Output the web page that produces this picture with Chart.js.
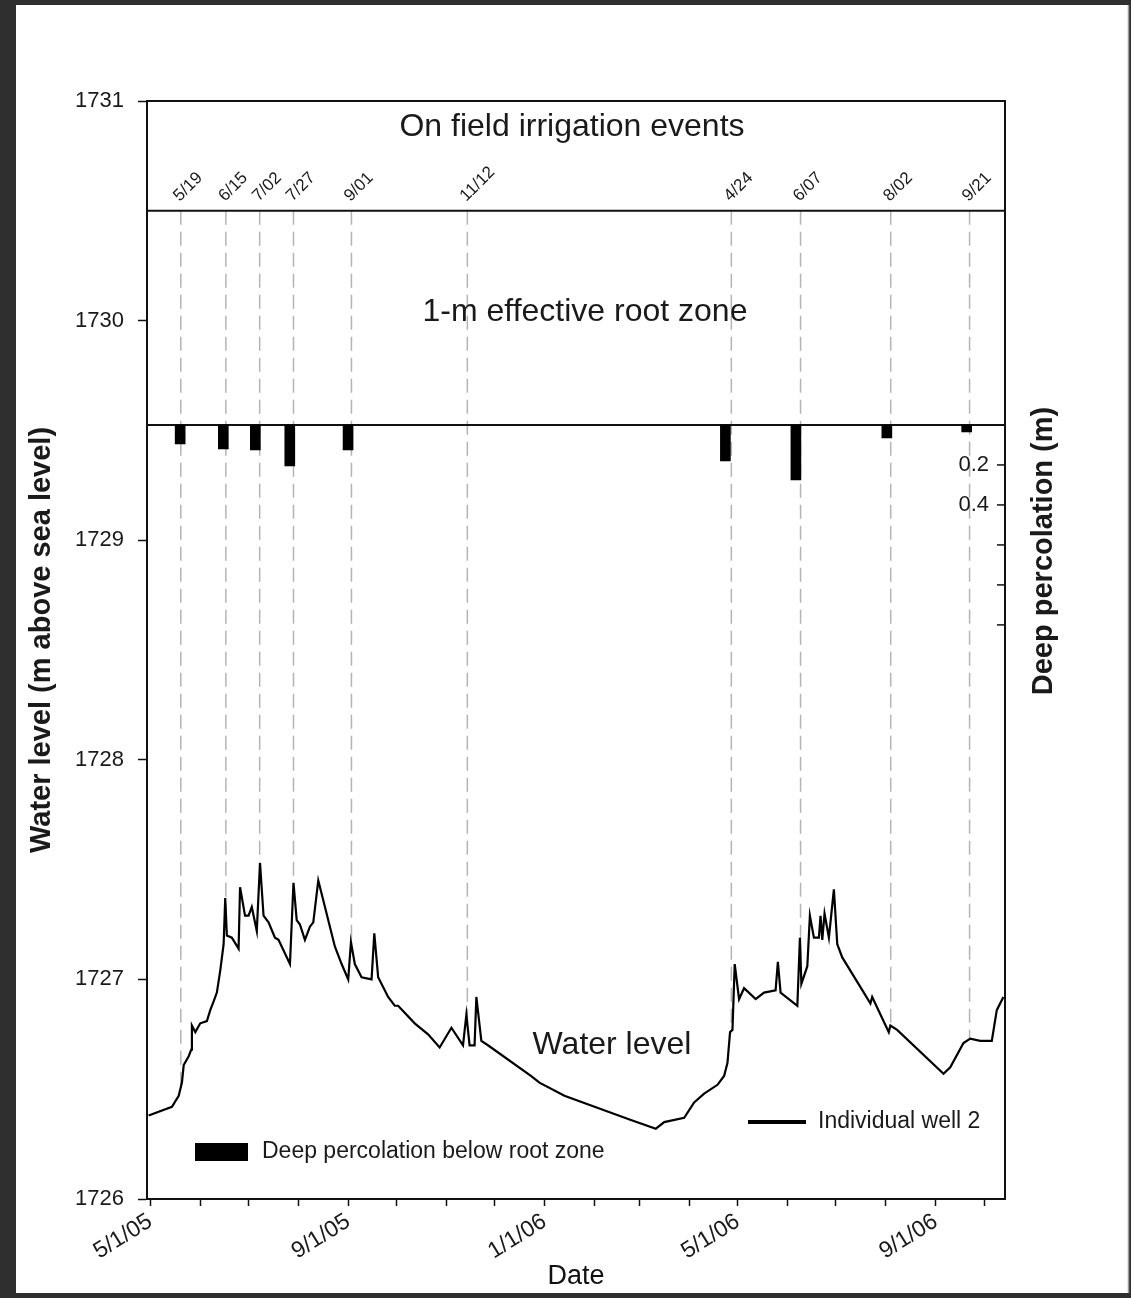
<!DOCTYPE html>
<html><head><meta charset="utf-8">
<script src="https://cdn.jsdelivr.net/npm/chart.js@4.4.1/dist/chart.umd.min.js"></script>
<style>
html,body{margin:0;padding:0;background:#2e2e2e;overflow:hidden;}
#c{position:absolute;left:0;top:0;}
</style></head><body>
<canvas id="c" width="1131" height="1298"></canvas>
<script>
// ---- data (days counted from 5/1/05) ----
const waterDays = [-1,13.5,17.7,19.7,20.8,23.9,25.5,25.9,28.0,31.1,35.2,37.3,39.4,41.4,43.5,45.6,46.6,47.6,50.7,54.9,55.8,58.9,61.1,63.1,66.2,68.2,70.4,73.5,77.5,79.7,86.8,89.0,91.0,93.0,96.1,99.2,101.3,104.4,107.5,114.7,118.9,123.0,124.7,127.1,131.3,137.5,139.2,141.6,147.8,151.9,154.0,164.3,172.6,179.8,187.1,194.3,196.4,198.4,201.5,202.6,205.7,209.8,236.7,241.8,257.3,298.6,314.1,319.3,331.7,337.9,344.1,352.4,356.5,358.6,360.2,361.7,363.1,365.8,368.9,376.1,381.3,388.5,389.9,391.6,402.0,403.6,404.5,408.2,409.8,412.3,415.4,416.4,417.5,418.9,421.6,424.7,426.8,429.9,443.3,447.4,448.5,458.8,459.8,464.0,492.8,497.0,505.2,509.4,515.6,522.8,525.9,530.0];
const waterLevels = [1726.38,1726.42,1726.47,1726.53,1726.61,1726.65,1726.68,1726.79,1726.76,1726.80,1726.81,1726.86,1726.90,1726.94,1727.04,1727.16,1727.37,1727.20,1727.19,1727.14,1727.42,1727.29,1727.29,1727.33,1727.22,1727.53,1727.29,1727.26,1727.19,1727.18,1727.07,1727.44,1727.27,1727.25,1727.18,1727.24,1727.26,1727.45,1727.36,1727.15,1727.07,1727.00,1727.17,1727.07,1727.01,1727.00,1727.21,1727.01,1726.92,1726.88,1726.88,1726.80,1726.75,1726.69,1726.78,1726.70,1726.84,1726.70,1726.70,1726.92,1726.72,1726.70,1726.56,1726.53,1726.47,1726.36,1726.32,1726.35,1726.37,1726.44,1726.48,1726.52,1726.56,1726.62,1726.76,1726.77,1727.07,1726.91,1726.96,1726.91,1726.94,1726.95,1727.08,1726.94,1726.88,1727.19,1726.98,1727.06,1727.29,1727.19,1727.19,1727.29,1727.18,1727.30,1727.19,1727.41,1727.16,1727.10,1726.94,1726.89,1726.92,1726.76,1726.79,1726.77,1726.57,1726.60,1726.71,1726.73,1726.72,1726.72,1726.86,1726.92];
const eventLabels = ['5/19','6/15','7/02','7/27','9/01','11/12','4/24','6/07','8/02','9/21'];
const eventDays = [19,47,68,89,125,197,361,404,460,509];
const percDays = [18.6,45.4,65.3,86.7,122.9,357.3,401.1,457.6,507.2];
const percDepths = [0.095,0.12,0.125,0.205,0.125,0.18,0.275,0.065,0.035];
const monthTickDays = [0,31,61,92,123,153,184,214,245,276,304,335,365,396,426,457,488,518];
const monthTickLabels = ['5/1/05','','','','9/1/05','','','','1/1/06','','','','5/1/06','','','','9/1/06',''];
const levelTicks = [1726,1727,1728,1729,1730,1731];
const percTickValues = [0.2,0.4,0.6,0.8,1.0];
const percTickLabels = ['0.2','0.4','','',''];
const rootZoneTop = 1730.5;

const FONT = '"Liberation Sans", Arial, Helvetica, sans-serif';

function levelAt(d){
  for(let i=1;i<waterDays.length;i++){
    if(waterDays[i]>=d){
      const t=(d-waterDays[i-1])/(waterDays[i]-waterDays[i-1]);
      return waterLevels[i-1]+t*(waterLevels[i]-waterLevels[i-1]);
    }
  }
  return waterLevels[waterLevels.length-1];
}

const framePlugin = {
  id:'frame',
  beforeDraw(chart){
    const c=chart.ctx;
    c.save();
    c.fillStyle='#2f2f2f'; c.fillRect(0,0,chart.width,chart.height);
    c.fillStyle='#ffffff'; c.fillRect(16,5,1112,1288);
    c.strokeStyle='#9a9a9a'; c.lineWidth=1.5;
    c.beginPath(); c.moveTo(1128.5,5); c.lineTo(1128.5,1293); c.stroke();
    c.restore();
  }
};

const overlayPlugin = {
  id:'overlay',
  beforeDatasetsDraw(chart){
    const c=chart.ctx, a=chart.chartArea, x=chart.scales.x, y=chart.scales.y, y2=chart.scales.y2;
    c.save();
    c.strokeStyle='#b4b4b4'; c.lineWidth=1.5; c.setLineDash([14,7]);
    const yTop=y.getPixelForValue(rootZoneTop);
    eventDays.forEach(d=>{
      const px=x.getPixelForValue(d);
      const py=y.getPixelForValue(levelAt(d));
      c.beginPath(); c.moveTo(px,yTop); c.lineTo(px,py); c.stroke();
    });
    c.setLineDash([]);
    c.strokeStyle='#111'; c.lineWidth=2;
    c.beginPath(); c.moveTo(a.left,yTop); c.lineTo(a.right,yTop); c.stroke();
    const y0=y2.getPixelForValue(0);
    c.beginPath(); c.moveTo(a.left,y0); c.lineTo(a.right,y0); c.stroke();
    c.beginPath(); c.moveTo(a.left,a.top); c.lineTo(a.right,a.top); c.lineTo(a.right,a.bottom); c.stroke();
    c.restore();
  },
  afterDatasetsDraw(chart){
    const c=chart.ctx, a=chart.chartArea, x=chart.scales.x, y2=chart.scales.y2;
    c.save();
    c.fillStyle='#1a1a1a';
    c.font='17px '+FONT; c.textAlign='left'; c.textBaseline='alphabetic';
    eventDays.forEach((d,i)=>{
      const px=x.getPixelForValue(d);
      c.save(); c.translate(px-1,202); c.rotate(-Math.PI/4); c.fillText(eventLabels[i],0,0); c.restore();
    });
    c.font='32px '+FONT; c.textAlign='center'; c.textBaseline='middle';
    c.fillText('On field irrigation events',572,127);
    c.fillText('1-m effective root zone',585,312);
    c.fillText('Water level',612,1045);
    c.strokeStyle='#111'; c.lineWidth=1.5;
    c.font='22px '+FONT; c.textAlign='right'; c.textBaseline='middle';
    percTickValues.forEach((v,i)=>{
      const py=y2.getPixelForValue(v);
      c.beginPath(); c.moveTo(a.right-8,py); c.lineTo(a.right,py); c.stroke();
      if(percTickLabels[i]) c.fillText(percTickLabels[i],a.right-16,py);
    });
    const ds=chart.data.datasets;
    c.fillStyle='#000'; c.fillRect(195,1143,53,18);
    c.strokeStyle='#000'; c.lineWidth=4;
    c.beginPath(); c.moveTo(748,1122); c.lineTo(806,1122); c.stroke();
    c.fillStyle='#1a1a1a'; c.font='23px '+FONT; c.textAlign='left'; c.textBaseline='middle';
    c.fillText(ds[0].label,262,1152);
    c.fillText(ds[1].label,818,1122);
    c.font='bold 29px '+FONT; c.textAlign='center'; c.textBaseline='middle';
    c.save(); c.translate(42,640); c.rotate(-Math.PI/2); c.fillText('Water level (m above sea level)',0,0); c.restore();
    c.save(); c.translate(1044,551); c.rotate(-Math.PI/2); c.fillText('Deep percolation (m)',0,0); c.restore();
    c.restore();
  }
};

new Chart(document.getElementById('c').getContext('2d'), {
  data:{
    datasets:[
      {type:'bar', label:'Deep percolation below root zone',
       data:percDays.map((d,i)=>({x:d,y:percDepths[i]})),
       xAxisID:'x', yAxisID:'y2', backgroundColor:'#000', borderWidth:0, barThickness:10, order:2},
      {type:'line', label:'Individual well 2',
       data:waterDays.map((d,i)=>({x:d,y:waterLevels[i]})),
       xAxisID:'x', yAxisID:'y', borderColor:'#000', borderWidth:2.2, pointRadius:0, tension:0, fill:false, order:1}
    ]
  },
  options:{
    responsive:false, animation:false, devicePixelRatio:1,
    layout:{padding:{left:0,right:126,top:101,bottom:0}},
    plugins:{legend:{display:false}, tooltip:{enabled:false}},
    scales:{
      x:{type:'linear', position:'bottom', min:-2, max:531, offset:false,
        afterBuildTicks:s=>{ s.ticks=monthTickDays.map(v=>({value:v})); },
        afterFit:s=>{ s.height=99; },
        ticks:{autoSkip:false, maxRotation:32, minRotation:32, font:{family:FONT,size:23}, color:'#1a1a1a', padding:2,
          callback:(v,i)=>monthTickLabels[i]},
        grid:{offset:false, drawOnChartArea:false, drawTicks:true, tickLength:7, color:'#111', tickWidth:1.5},
        border:{display:true, color:'#111', width:2},
        title:{display:true, text:'Date', font:{family:FONT,size:27}, color:'#111', padding:{top:0,bottom:5}}
      },
      y:{type:'linear', position:'left', min:1726, max:1731,
        afterBuildTicks:s=>{ s.ticks=levelTicks.map(v=>({value:v})); },
        afterFit:s=>{ s.width=147; },
        ticks:{font:{family:FONT,size:22}, color:'#1a1a1a', padding:14, callback:v=>String(v)},
        grid:{offset:false, drawOnChartArea:false, tickLength:9, color:'#111', tickWidth:1.5},
        border:{display:true, color:'#111', width:2}
      },
      y2:{type:'linear', position:'right', display:false, min:-1.62, max:3.871, reverse:true}
    }
  },
  plugins:[framePlugin, overlayPlugin]
});
</script>
</body></html>
